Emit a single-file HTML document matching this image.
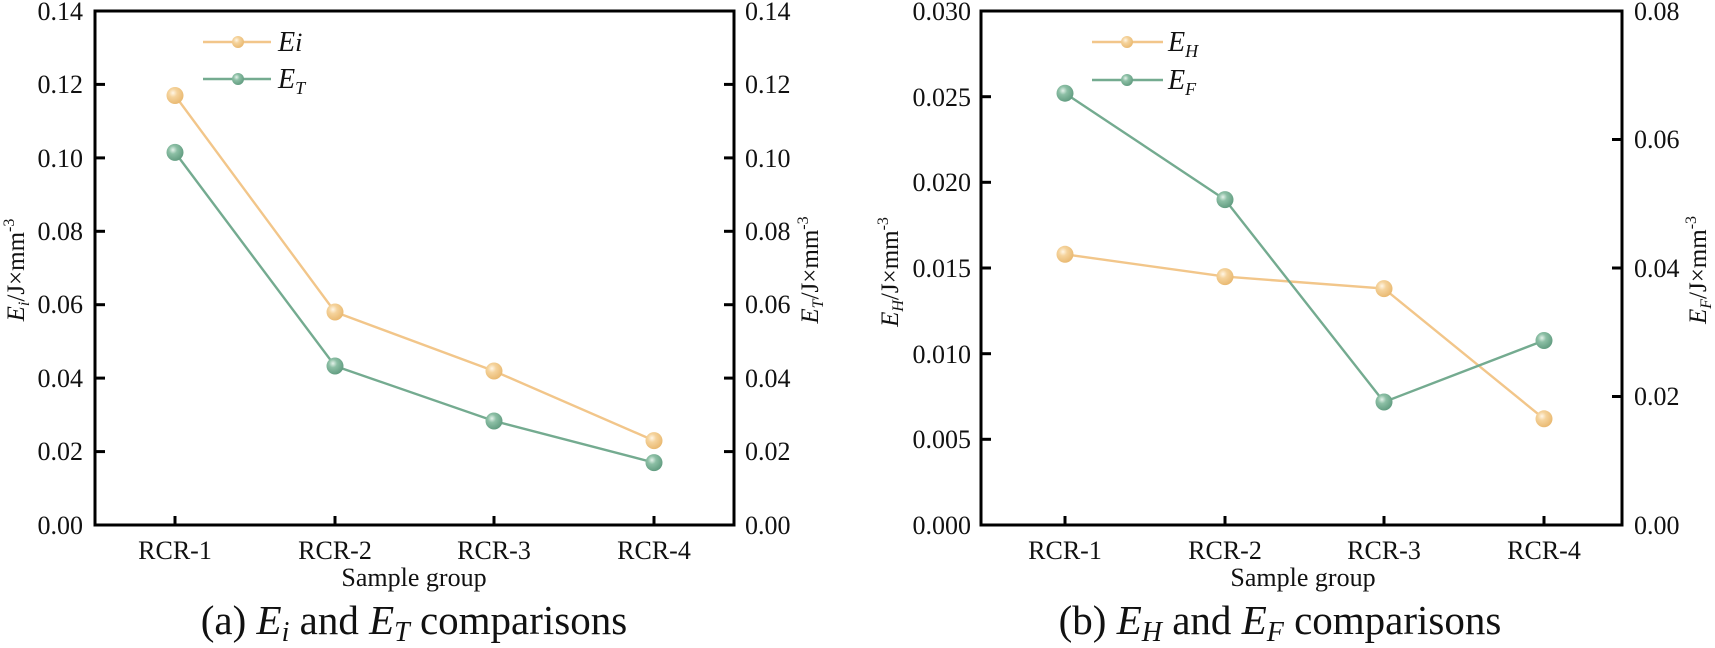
<!DOCTYPE html>
<html><head><meta charset="utf-8"><style>
html,body{margin:0;padding:0;background:#fff}
svg{display:block;font-family:"Liberation Serif",serif}
</style></head><body>
<svg width="1715" height="648" viewBox="0 0 1715 648" xmlns="http://www.w3.org/2000/svg">
<defs>
<radialGradient id="go" cx="0.38" cy="0.35" r="0.7"><stop offset="0" stop-color="#fff6e6"/><stop offset="0.35" stop-color="#f5d39c"/><stop offset="1" stop-color="#e8b76e"/></radialGradient>
<radialGradient id="gg" cx="0.38" cy="0.35" r="0.7"><stop offset="0" stop-color="#e4f2ea"/><stop offset="0.35" stop-color="#8cbfa5"/><stop offset="1" stop-color="#5f9a7e"/></radialGradient>
</defs>
<g stroke="#000" stroke-width="3" fill="none">
<rect x="95" y="11" width="639" height="514"/>
<rect x="981" y="11" width="641" height="514"/>
</g>
<g stroke="#000" stroke-width="3">
<line x1="95" y1="84.4" x2="105" y2="84.4"/><line x1="95" y1="157.9" x2="105" y2="157.9"/><line x1="95" y1="231.3" x2="105" y2="231.3"/><line x1="95" y1="304.7" x2="105" y2="304.7"/><line x1="95" y1="378.1" x2="105" y2="378.1"/><line x1="95" y1="451.6" x2="105" y2="451.6"/>
<line x1="734" y1="84.4" x2="724" y2="84.4"/><line x1="734" y1="157.9" x2="724" y2="157.9"/><line x1="734" y1="231.3" x2="724" y2="231.3"/><line x1="734" y1="304.7" x2="724" y2="304.7"/><line x1="734" y1="378.1" x2="724" y2="378.1"/><line x1="734" y1="451.6" x2="724" y2="451.6"/>
<line x1="175" y1="525" x2="175" y2="516"/><line x1="335" y1="525" x2="335" y2="516"/><line x1="494" y1="525" x2="494" y2="516"/><line x1="654" y1="525" x2="654" y2="516"/>
<line x1="981" y1="96.7" x2="991" y2="96.7"/><line x1="981" y1="182.3" x2="991" y2="182.3"/><line x1="981" y1="268" x2="991" y2="268"/><line x1="981" y1="353.7" x2="991" y2="353.7"/><line x1="981" y1="439.3" x2="991" y2="439.3"/>
<line x1="1622" y1="139.5" x2="1612" y2="139.5"/><line x1="1622" y1="268" x2="1612" y2="268"/><line x1="1622" y1="396.5" x2="1612" y2="396.5"/>
<line x1="1065" y1="525" x2="1065" y2="516"/><line x1="1225" y1="525" x2="1225" y2="516"/><line x1="1384" y1="525" x2="1384" y2="516"/><line x1="1544" y1="525" x2="1544" y2="516"/>
</g>
<g font-size="26" fill="#111" text-anchor="end">
<text x="83" y="20">0.14</text><text x="83" y="93">0.12</text><text x="83" y="167">0.10</text><text x="83" y="240">0.08</text><text x="83" y="313">0.06</text><text x="83" y="387">0.04</text><text x="83" y="460">0.02</text><text x="83" y="534">0.00</text>
<text x="971" y="20">0.030</text><text x="971" y="106">0.025</text><text x="971" y="191">0.020</text><text x="971" y="277">0.015</text><text x="971" y="363">0.010</text><text x="971" y="448">0.005</text><text x="971" y="534">0.000</text>
</g>
<g font-size="26" fill="#111">
<text x="745" y="20">0.14</text><text x="745" y="93">0.12</text><text x="745" y="167">0.10</text><text x="745" y="240">0.08</text><text x="745" y="313">0.06</text><text x="745" y="387">0.04</text><text x="745" y="460">0.02</text><text x="745" y="534">0.00</text>
<text x="1634" y="20">0.08</text><text x="1634" y="148">0.06</text><text x="1634" y="277">0.04</text><text x="1634" y="405">0.02</text><text x="1634" y="534">0.00</text>
</g>
<g font-size="26" fill="#111" text-anchor="middle">
<text x="175" y="559">RCR-1</text><text x="335" y="559">RCR-2</text><text x="494" y="559">RCR-3</text><text x="654" y="559">RCR-4</text>
<text x="1065" y="559">RCR-1</text><text x="1225" y="559">RCR-2</text><text x="1384" y="559">RCR-3</text><text x="1544" y="559">RCR-4</text>
<text x="414" y="586">Sample group</text><text x="1303" y="586">Sample group</text>
</g>
<g font-size="25" fill="#111" text-anchor="middle">
<text transform="translate(24,270) rotate(-90)"><tspan font-style="italic">E</tspan><tspan font-size="16" dy="5" font-style="italic">i</tspan><tspan dy="-5">/J×mm</tspan><tspan font-size="16" dy="-10">-3</tspan></text>
<text transform="translate(818,270) rotate(-90)"><tspan font-style="italic">E</tspan><tspan font-size="16" dy="5" font-style="italic">T</tspan><tspan dy="-5">/J×mm</tspan><tspan font-size="16" dy="-10">-3</tspan></text>
<text transform="translate(898,272) rotate(-90)"><tspan font-style="italic">E</tspan><tspan font-size="16" dy="5" font-style="italic">H</tspan><tspan dy="-5">/J×mm</tspan><tspan font-size="16" dy="-10">-3</tspan></text>
<text transform="translate(1706,270) rotate(-90)"><tspan font-style="italic">E</tspan><tspan font-size="16" dy="5" font-style="italic">F</tspan><tspan dy="-5">/J×mm</tspan><tspan font-size="16" dy="-10">-3</tspan></text>
</g>
<polyline points="175,95.5 335,312 494,371 654,440.6" fill="none" stroke="#f2c68a" stroke-width="2.4"/>
<polyline points="175,152.4 335,366 494,421 654,462.6" fill="none" stroke="#74ab90" stroke-width="2.4"/>
<g fill="url(#go)"><circle cx="175" cy="95.5" r="8.5"/><circle cx="335" cy="312" r="8.5"/><circle cx="494" cy="371" r="8.5"/><circle cx="654" cy="440.6" r="8.5"/></g>
<g fill="url(#gg)"><circle cx="175" cy="152.4" r="8.5"/><circle cx="335" cy="366" r="8.5"/><circle cx="494" cy="421" r="8.5"/><circle cx="654" cy="462.6" r="8.5"/></g>
<polyline points="1065,254.3 1225,276.6 1384,288.6 1544,418.8" fill="none" stroke="#f2c68a" stroke-width="2.4"/>
<polyline points="1065,93.2 1225,199.6 1384,402 1544,340.5" fill="none" stroke="#74ab90" stroke-width="2.4"/>
<g fill="url(#go)"><circle cx="1065" cy="254.3" r="8.5"/><circle cx="1225" cy="276.6" r="8.5"/><circle cx="1384" cy="288.6" r="8.5"/><circle cx="1544" cy="418.8" r="8.5"/></g>
<g fill="url(#gg)"><circle cx="1065" cy="93.2" r="8.5"/><circle cx="1225" cy="199.6" r="8.5"/><circle cx="1384" cy="402" r="8.5"/><circle cx="1544" cy="340.5" r="8.5"/></g>
<g stroke-width="2.4">
<line x1="203" y1="42" x2="271" y2="42" stroke="#f2c68a"/><circle cx="238" cy="42" r="6" fill="url(#go)" stroke="none"/>
<line x1="203" y1="79" x2="271" y2="79" stroke="#74ab90"/><circle cx="238" cy="79" r="6" fill="url(#gg)" stroke="none"/>
<line x1="1092" y1="42" x2="1163" y2="42" stroke="#f2c68a"/><circle cx="1127" cy="42" r="6" fill="url(#go)" stroke="none"/>
<line x1="1092" y1="80" x2="1163" y2="80" stroke="#74ab90"/><circle cx="1127" cy="80" r="6" fill="url(#gg)" stroke="none"/>
</g>
<g font-size="28" font-style="italic" fill="#111">
<text x="278" y="51">E<tspan font-size="26">i</tspan></text>
<text x="278" y="88">E<tspan font-size="18" dy="6">T</tspan></text>
<text x="1168" y="51">E<tspan font-size="18" dy="6">H</tspan></text>
<text x="1168" y="89">E<tspan font-size="18" dy="6">F</tspan></text>
</g>
<g font-size="41" fill="#111" text-anchor="middle">
<text x="414" y="634">(a) <tspan font-style="italic">E</tspan><tspan font-style="italic" font-size="28" dy="7">i</tspan><tspan dy="-7"> and </tspan><tspan font-style="italic">E</tspan><tspan font-style="italic" font-size="28" dy="7">T</tspan><tspan dy="-7"> comparisons</tspan></text>
<text x="1280" y="634">(b) <tspan font-style="italic">E</tspan><tspan font-style="italic" font-size="28" dy="7">H</tspan><tspan dy="-7"> and </tspan><tspan font-style="italic">E</tspan><tspan font-style="italic" font-size="28" dy="7">F</tspan><tspan dy="-7"> comparisons</tspan></text>
</g>
</svg>
</body></html>
